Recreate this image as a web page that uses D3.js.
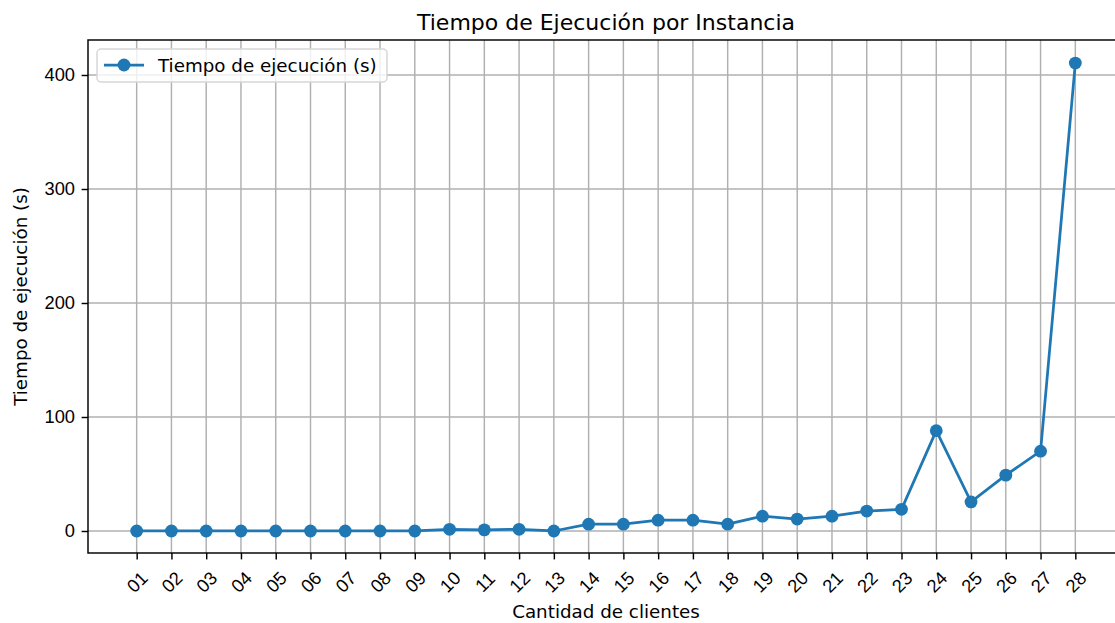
<!DOCTYPE html>
<html>
<head>
<meta charset="utf-8">
<script src="https://cdn.jsdelivr.net/npm/d3@7"></script>
<style>
  body { margin: 0; background: #fff; }
  svg { display: block; font-family: "DejaVu Sans", sans-serif; overflow: hidden; }
</style>
</head>
<body>
<div id="chart"></div>
<script>
// instance labels and run times (seconds)
var instancias = ["01","02","03","04","05","06","07","08","09","10","11","12","13","14",
                  "15","16","17","18","19","20","21","22","23","24","25","26","27","28"];
var tiempos = [0, 0, 0, 0, 0, 0, 0, 0, 0, 1.5, 1, 1.5, 0, 6,
               6, 9.5, 9.5, 6, 13, 10.5, 13, 17.5, 19, 88, 25.5, 49, 70, 410.5];
var yTicks = [0, 100, 200, 300, 400];

function init() {
    const w = 1115;
    const h = 623;
    var left = 88, right = 1124, top = 40, bottom = 553;
    var fs = 18.3;

    var svg = d3.select("#chart")
        .append("svg")
        .attr("width", w)
        .attr("height", h);

    var x = d3.scaleLinear()
        .domain([-1.4, instancias.length - 1 + 1.4])
        .range([left, right]);
    var y = d3.scaleLinear()
        .domain([-19.3, 430.7])
        .range([bottom, top]);

    // grid
    svg.append("g").selectAll("line.vx")
        .data(instancias)
        .enter().append("line")
        .attr("x1", function (d, i) { return x(i); })
        .attr("x2", function (d, i) { return x(i); })
        .attr("y1", top).attr("y2", bottom)
        .attr("stroke", "#b0b0b0").attr("stroke-width", 1.45);
    svg.append("g").selectAll("line.hy")
        .data(yTicks)
        .enter().append("line")
        .attr("x1", left).attr("x2", right)
        .attr("y1", function (d) { return y(d); })
        .attr("y2", function (d) { return y(d); })
        .attr("stroke", "#b0b0b0").attr("stroke-width", 1.45);

    // axes
    var xAxis = d3.axisBottom(x)
        .tickValues(d3.range(instancias.length))
        .tickFormat(function (i) { return instancias[i]; })
        .tickSize(6.4).tickSizeOuter(0);
    var gx = svg.append("g")
        .attr("transform", "translate(0," + bottom + ")")
        .call(xAxis);
    gx.select(".domain").remove();
    gx.selectAll("line").attr("stroke", "#000").attr("stroke-width", 1.45);
    gx.selectAll("text")
        .attr("font-size", fs)
        .attr("fill", "#000")
        .attr("text-anchor", "middle")
        .attr("dy", null)
        .attr("dominant-baseline", "central")
        .attr("y", 0)
        .attr("transform", "translate(0,29) rotate(-45)");

    var yAxis = d3.axisLeft(y)
        .tickValues(yTicks)
        .tickSize(6.4).tickSizeOuter(0);
    var gy = svg.append("g")
        .attr("transform", "translate(" + left + ",0)")
        .call(yAxis);
    gy.select(".domain").remove();
    gy.selectAll("line").attr("stroke", "#000").attr("stroke-width", 1.45);
    gy.selectAll("text").attr("font-size", fs).attr("fill", "#000").attr("x", -13);

    // spines
    svg.append("rect")
        .attr("x", left).attr("y", top)
        .attr("width", right - left).attr("height", bottom - top)
        .attr("fill", "none").attr("stroke", "#000").attr("stroke-width", 1.45);

    // series
    var line = d3.line()
        .x(function (d, i) { return x(i); })
        .y(function (d) { return y(d); });
    svg.append("path")
        .datum(tiempos)
        .attr("d", line)
        .attr("fill", "none")
        .attr("stroke", "#1f77b4")
        .attr("stroke-width", 2.75)
        .attr("stroke-linejoin", "round");
    svg.append("g").selectAll("circle")
        .data(tiempos)
        .enter().append("circle")
        .attr("cx", function (d, i) { return x(i); })
        .attr("cy", function (d) { return y(d); })
        .attr("r", 6.4)
        .attr("fill", "#1f77b4");

    // titles
    svg.append("text")
        .attr("x", (left + right) / 2).attr("y", 30)
        .attr("text-anchor", "middle")
        .attr("font-size", 22)
        .text("Tiempo de Ejecución por Instancia");
    svg.append("text")
        .attr("x", (left + right) / 2).attr("y", 618)
        .attr("text-anchor", "middle")
        .attr("font-size", fs)
        .text("Cantidad de clientes");
    svg.append("text")
        .attr("transform", "translate(27," + (top + bottom) / 2 + ") rotate(-90)")
        .attr("text-anchor", "middle")
        .attr("font-size", fs)
        .text("Tiempo de ejecución (s)");

    // legend
    var lg = svg.append("g").attr("transform", "translate(97,49)");
    lg.append("rect")
        .attr("width", 290).attr("height", 33).attr("rx", 4)
        .attr("fill", "#fff").attr("fill-opacity", 0.8)
        .attr("stroke", "#d6d6d6").attr("stroke-width", 1.45);
    lg.append("line")
        .attr("x1", 7).attr("x2", 47).attr("y1", 16).attr("y2", 16)
        .attr("stroke", "#1f77b4").attr("stroke-width", 2.75);
    lg.append("circle")
        .attr("cx", 27).attr("cy", 16).attr("r", 6.4).attr("fill", "#1f77b4");
    lg.append("text")
        .attr("x", 61).attr("y", 22.5)
        .attr("font-size", fs)
        .text("Tiempo de ejecución (s)");
}
window.onload = init();
</script>
</body>
</html>
